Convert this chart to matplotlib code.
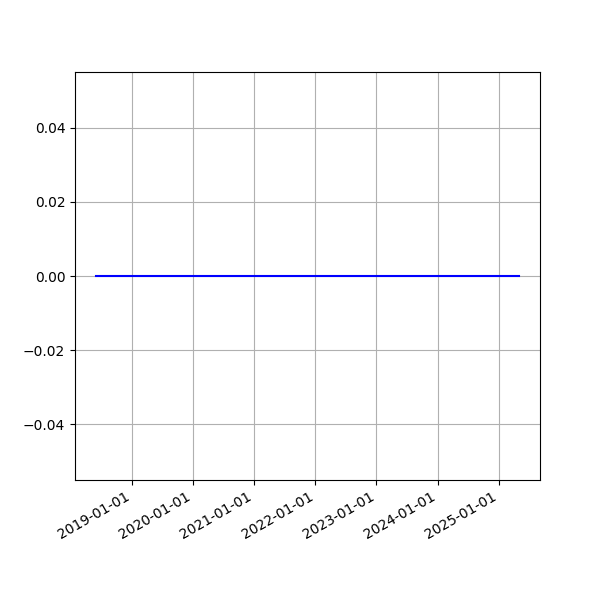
import matplotlib
matplotlib.use("Agg")
import matplotlib.pyplot as plt
import matplotlib.dates as mdates
import pandas as pd

start_date = "2018-06-01"
end_date = "2025-05-01"
dates = pd.date_range(start_date, end_date, freq="MS")
values = [0.0] * len(dates)

fig, ax = plt.subplots(figsize=(6, 6), dpi=100)
ax.plot(dates, values, color="blue")
ax.grid(True)
ax.xaxis.set_major_locator(mdates.YearLocator())
ax.xaxis.set_major_formatter(mdates.DateFormatter("%Y-%m-%d"))
fig.autofmt_xdate()
fig.savefig("out.png", dpi=100)
